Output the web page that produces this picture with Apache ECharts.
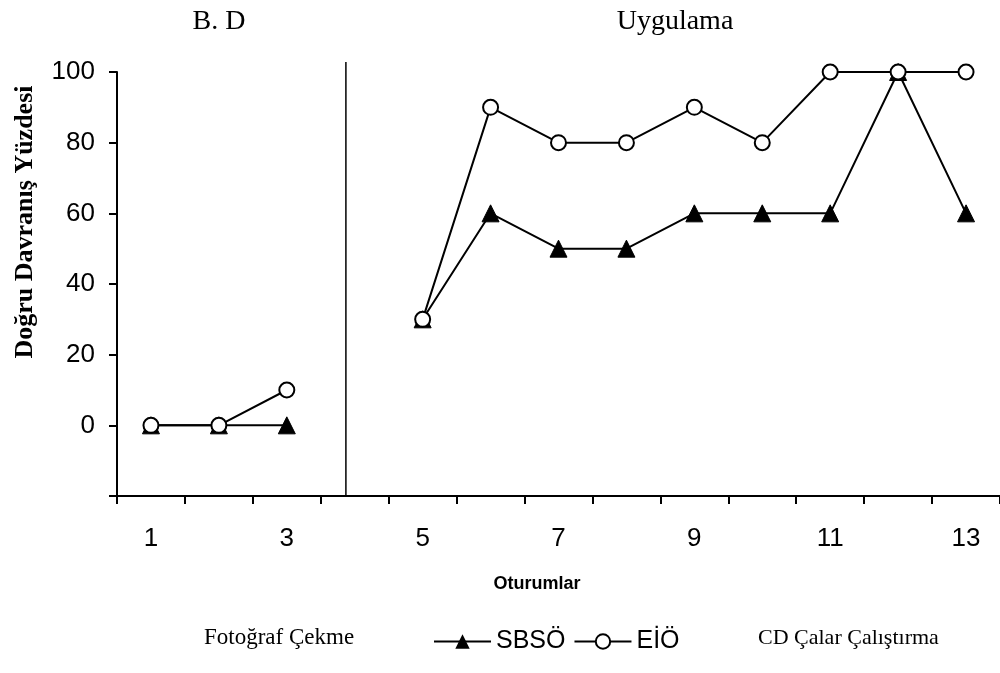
<!DOCTYPE html>
<html>
<head>
<meta charset="utf-8">
<script src="https://cdn.jsdelivr.net/npm/echarts@6/dist/echarts.min.js"></script>
<style>html,body{margin:0;padding:0;background:#fff}#c{width:1000px;height:673px}</style>
</head>
<body>
<div id="c"></div>
<script>
const sessions = ['1','2','3','4','5','6','7','8','9','10','11','12','13'];
const sbso = [0, 0, 0, null, 30, 60, 50, 50, 60, 60, 60, 100, 60];
const eio  = [0, 0, 10, null, 30, 90, 80, 80, 90, 80, 100, 100, 100];
const phaseChange = 3.87;
const phaseLabels = ['B. D', 'Uygulama'];
const yTicks = { min: -20, max: 100, interval: 20 };

const chart = echarts.init(document.getElementById('c'), null, {renderer: 'canvas'});
const SANS = '"Liberation Sans", Arial, sans-serif';
const SERIF = '"Liberation Serif", "Times New Roman", serif';

chart.setOption({
  animation: false,
  backgroundColor: '#fff',
  grid: { left: 117, top: 72, width: 886, height: 424, containLabel: false },
  xAxis: [{
    type: 'category',
    data: sessions,
    boundaryGap: true,
    axisLine: { onZero: false, lineStyle: { color: '#000', width: 2 } },
    axisTick: { show: true, interval: 0, length: 8, lineStyle: { color: '#000', width: 2 } },
    axisLabel: { interval: 1, color: '#000', fontFamily: SANS, fontSize: 26, margin: 30 },
    splitLine: { show: false }
  }, {
    type: 'value', min: 0.5, max: 13.5, show: false
  }],
  yAxis: {
    type: 'value',
    min: yTicks.min, max: yTicks.max, interval: yTicks.interval,
    axisLine: { show: true, lineStyle: { color: '#000', width: 2 } },
    axisTick: { show: true, length: 8, lineStyle: { color: '#000', width: 2 } },
    axisLabel: { color: '#000', fontFamily: SANS, fontSize: 26, margin: 22,
      formatter: v => v < 0 ? '' : String(v) },
    splitLine: { show: false }
  },
  legend: {
    left: 428, top: 624,
    itemWidth: 57, itemHeight: 18, itemGap: 8,
    textStyle: { color: '#000', fontFamily: SANS, fontSize: 25 },
    data: ['SBSÖ', 'EİÖ']
  },
  graphic: [
    { type: 'text', x: 219, y: 22, style: { text: phaseLabels[0], font: '28px ' + SERIF, fill: '#000', align: 'center', verticalAlign: 'middle' } },
    { type: 'text', x: 675, y: 22, style: { text: phaseLabels[1], font: '28px ' + SERIF, fill: '#000', align: 'center', verticalAlign: 'middle' } },
    { type: 'text', x: 25, y: 222, rotation: Math.PI / 2,
      style: { text: 'Doğru Davranış Yüzdesi', font: 'bold 26px ' + SERIF, fill: '#000', align: 'center', verticalAlign: 'middle' } },
    { type: 'text', x: 537, y: 584,
      style: { text: 'Oturumlar', font: 'bold 18px ' + SANS, fill: '#000', align: 'center', verticalAlign: 'middle' } },
    { type: 'text', x: 204, y: 638,
      style: { text: 'Fotoğraf Çekme', font: '23px ' + SERIF, fill: '#000', align: 'left', verticalAlign: 'middle' } },
    { type: 'text', x: 758, y: 638,
      style: { text: 'CD Çalar Çalıştırma', font: '22px ' + SERIF, fill: '#000', align: 'left', verticalAlign: 'middle' } }
  ],
  series: [
    {
      name: 'SBSÖ', type: 'line', data: sbso, connectNulls: false,
      symbol: 'triangle', symbolSize: 17,
      lineStyle: { color: '#000', width: 2 },
      itemStyle: { color: '#000', borderColor: '#000' }
    },
    {
      name: 'EİÖ', type: 'line', data: eio, connectNulls: false,
      symbol: 'circle', symbolSize: 15,
      lineStyle: { color: '#000', width: 2 },
      itemStyle: { color: '#fff', borderColor: '#000', borderWidth: 2 }
    },
    {
      name: 'phase', type: 'line', xAxisIndex: 1, clip: false, symbol: 'none',
      data: [[phaseChange, yTicks.min], [phaseChange, 102.8]],
      lineStyle: { color: '#000', width: 1.5 }, silent: true
    }
  ]
});
</script>
</body>
</html>
